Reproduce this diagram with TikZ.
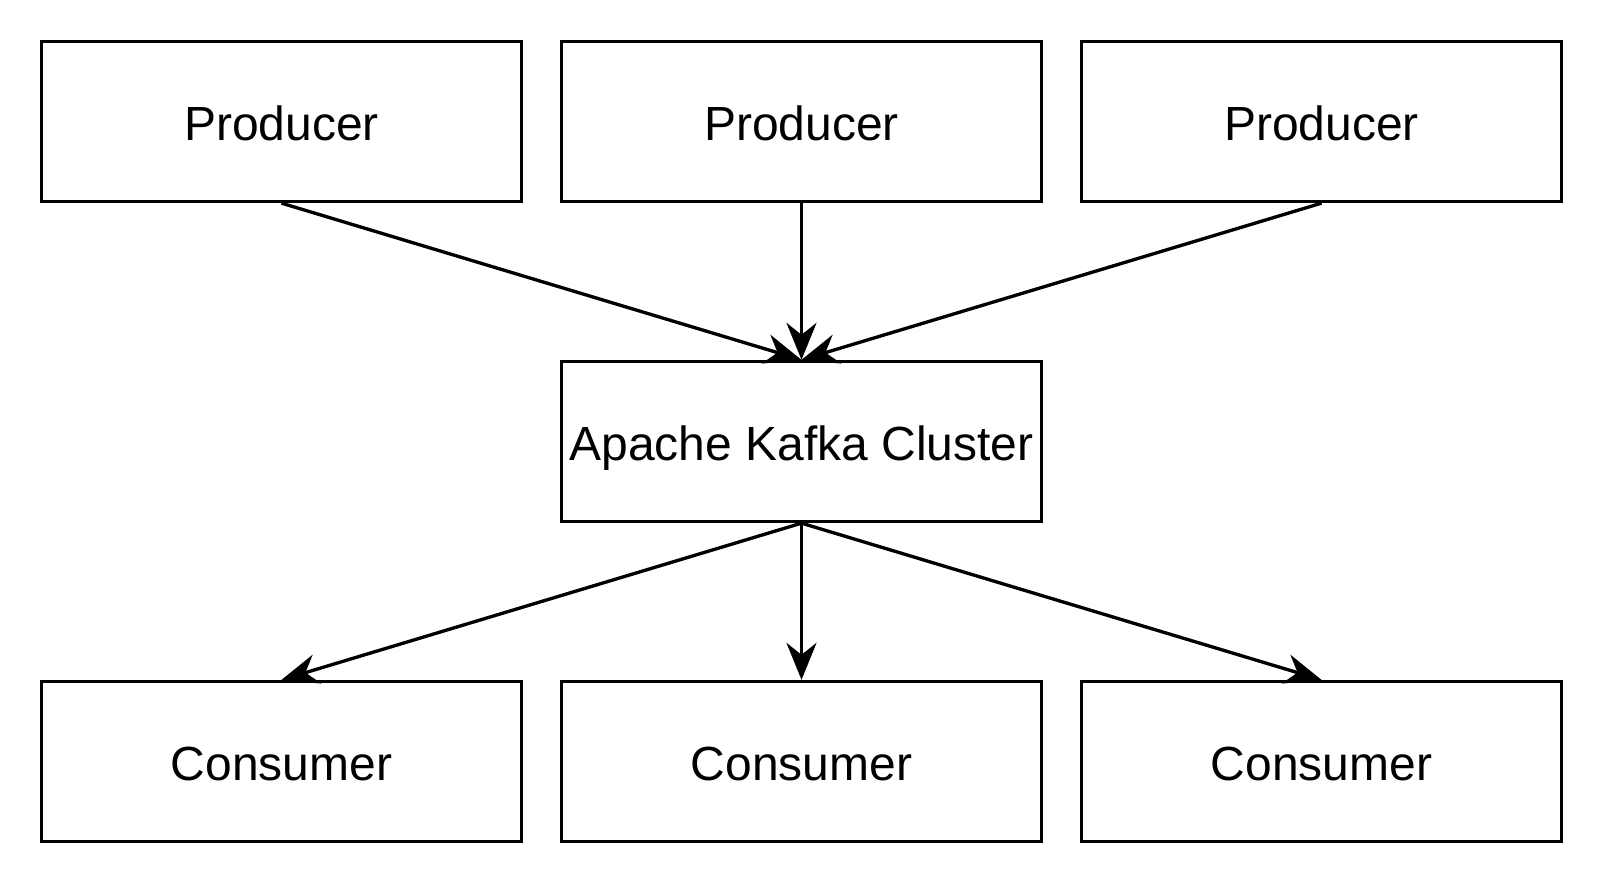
\documentclass[tikz,border=0pt]{standalone}
\usepackage{fontspec}
\setmainfont{Liberation Sans}
\usetikzlibrary{arrows.meta}

\begin{document}
\begin{tikzpicture}[x=0.02cm, y=-0.02cm, line width=1.9pt, >={Stealth[length=0.74cm, width=0.6cm, inset=0.24cm]},
box/.style={draw, rectangle, minimum width=9.6cm, minimum height=3.2cm, inner sep=0pt, text height=26.5pt, text depth=5.2pt, font=\fontsize{27.3}{32}\selectfont}]
\useasboundingbox (0,0) rectangle (1604,884);
\node[box] (p1) at (281.5,121.5) {Producer};
\node[box] (p2) at (801.5,121.5) {Producer};
\node[box] (p3) at (1321.5,121.5) {Producer};
\node[box] (k) at (801.5,441.5) {Apache Kafka Cluster};
\node[box] (c1) at (281.5,761.5) {Consumer};
\node[box] (c2) at (801.5,761.5) {Consumer};
\node[box] (c3) at (1321.5,761.5) {Consumer};
\path[->]
(p1.south) edge (k.north)
(p2.south) edge (k.north)
(p3.south) edge (k.north)
(k.south) edge (c1.north)
(k.south) edge (c2.north)
(k.south) edge (c3.north);
\end{tikzpicture}
\end{document}
